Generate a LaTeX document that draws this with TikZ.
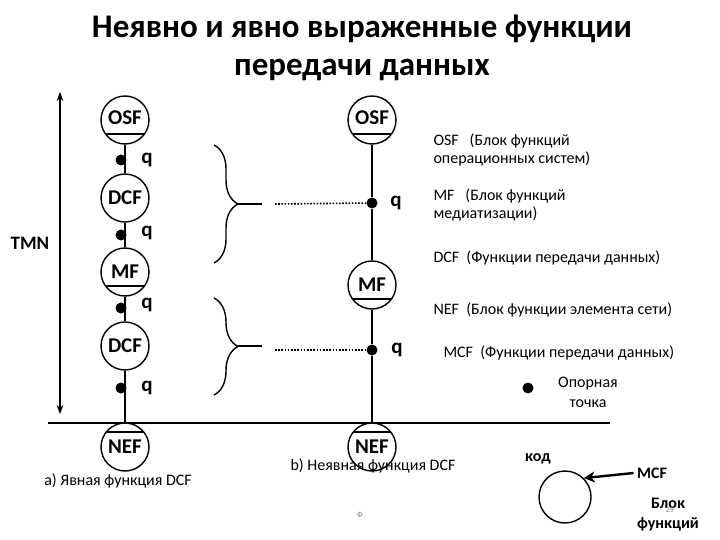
\documentclass[tikz,border=0pt]{standalone}
\usepackage{fontspec}
\setmainfont{Carlito}
\usetikzlibrary{decorations.pathreplacing,arrows.meta}
\tikzset{
  fb/.style={circle, draw, line width=1.4pt, minimum size=48pt, inner sep=0pt, font=\bfseries\fontsize{21}{21}\selectfont},
  topbar/.style={path picture={\draw[line width=1.4pt] ([yshift=-9pt]path picture bounding box.north west) -- ([yshift=-9pt]path picture bounding box.north east);}},
  botbar/.style={path picture={\draw[line width=1.4pt] ([yshift=10pt]path picture bounding box.south west) -- ([yshift=10pt]path picture bounding box.south east);}},
  pt/.style={circle, fill, inner sep=0pt, minimum size=11pt},
  ql/.style={font=\bfseries\fontsize{21}{21}\selectfont},
  lg/.style={font=\fontsize{16}{18}\selectfont, align=left, anchor=west},
  br/.style={decorate, decoration={brace, amplitude=24pt}, line width=1.4pt},
  dl/.style={line width=1.6pt, dash pattern=on 1.6pt off 1.6pt}
}
\begin{document}
\begin{tikzpicture}[x=1pt,y=-1pt]
\useasboundingbox (0,0) rectangle (720,540);
\node[font=\bfseries\fontsize{33}{38}\selectfont, align=center] (title) at (362,48) {Неявно и явно выраженные функции\\передачи данных};
% explicit column
\node[fb, botbar] (osfA) at (125,120) {\raisebox{5pt}{OSF}};
\node[pt] (qa1) at (121,160) {};
\node[fb] (dcfA) at (125,198) {DCF};
\node[pt] (qa2) at (121,235) {};
\node[fb, topbar, botbar] (mfA) at (125,272) {MF};
\node[pt] (qa3) at (121,308) {};
\node[fb] (dcfB) at (125,346) {DCF};
\node[pt] (qa4) at (121,388) {};
\node[fb, topbar] (nefA) at (125,447) {\raisebox{-4pt}{NEF}};
\draw[line width=1.4pt] (osfA) -- (dcfA) (dcfA) -- (mfA) (mfA) -- (dcfB) (dcfB) -- (nefA);
\foreach \n/\y in {qa1/160,qa2/233,qa3/305,qa4/388} \node[ql] at (147,\y) {q};
% implicit column
\node[fb, botbar] (osfB) at (372,120) {\raisebox{5pt}{OSF}};
\node[pt] (qb1) at (372,203) {};
\node[fb, topbar, botbar] (mfB) at (372,285) {MF};
\node[pt] (qb2) at (372,350) {};
\node[fb, topbar] (nefB) at (372,447) {\raisebox{-4pt}{NEF}};
\draw[line width=1.4pt] (osfB) -- (qb1) -- (mfB) -- (qb2) -- (nefB);
\node[ql] (qt1) at (396,203) {q};
\node[ql] (qt2) at (397,350) {q};
% braces
\coordinate (b1t) at (214,145); \coordinate (b1b) at (214,263);
\coordinate (b2t) at (214,298); \coordinate (b2b) at (214,395);
\draw[br] (b1t) -- (b1b);
\draw[br] (b2t) -- (b2b);
\coordinate (t1) at (238,204); \coordinate (e1) at (262,204);
\coordinate (t2) at (238,346); \coordinate (e2) at (262,346);
\draw[line width=1.4pt] (t1) -- (e1) (t2) -- (e2);
\coordinate (d1) at (275,204); \coordinate (d2) at (275,350);
\draw[dl] (d1) -- (qb1);
\draw[dl] (d2) -- (qb2);
% TMN arrow and base line
\coordinate (up) at (60,92); \coordinate (dn) at (60,414);
\draw[line width=1.4pt, {Stealth[length=9pt]}-{Stealth[length=9pt]}] (up) -- (dn);
\node[font=\bfseries\fontsize{19}{19}\selectfont] (tmn) at (30,243) {TMN};
\coordinate (l0) at (48,423); \coordinate (l1) at (610,423);
\draw[line width=1.4pt] (l0) -- (l1);
% legend
\node[lg] (lo) at (430,150) {OSF\ \ \ (Блок функций\\операционных систем)};
\node[lg] (lm) at (430,205) {MF\ \ \ (Блок функций\\медиатизации)};
\node[lg] (ld) at (430,258) {DCF\ \ (Функции передачи данных)};
\node[lg] (ln) at (430,310) {NEF\ \ (Блок функции элемента сети)};
\node[lg] (lc) at (440,353) {MCF\ \ (Функции передачи данных)};
\node[pt] (ref) at (528,388) {};
\node[font=\fontsize{16}{20}\selectfont, align=center] (reft) at (588,392) {Опорная\\точка};
\node[font=\fontsize{16}{16}\selectfont] (capa) at (118,481) {a) Явная функция DCF};
\node[font=\fontsize{16}{16}\selectfont] (capb) at (373,466) {b) Неявная функция DCF};
\node[font=\fontsize{8}{8}\selectfont, text=gray] (phi) at (360,515) {Ф};
% legend circle
\node[circle, draw, line width=1.4pt, minimum size=52pt] (blk) at (565,497) {};
\node[font=\bfseries\fontsize{16}{16}\selectfont] (kod) at (538,459) {код};
\node[font=\bfseries\fontsize{16}{16}\selectfont] (mcf) at (652,473) {MCF};
\draw[line width=2.4pt, -{Stealth[length=11pt,width=11pt]}] (mcf.west) -- (blk.north east);
\node[font=\bfseries\fontsize{16}{20}\selectfont, align=center] (blkt) at (668,515) {Блок\\функций};
\node[font=\fontsize{8}{8}\selectfont, text=gray] (pg) at (670,510) {29};
\end{tikzpicture}
\end{document}
